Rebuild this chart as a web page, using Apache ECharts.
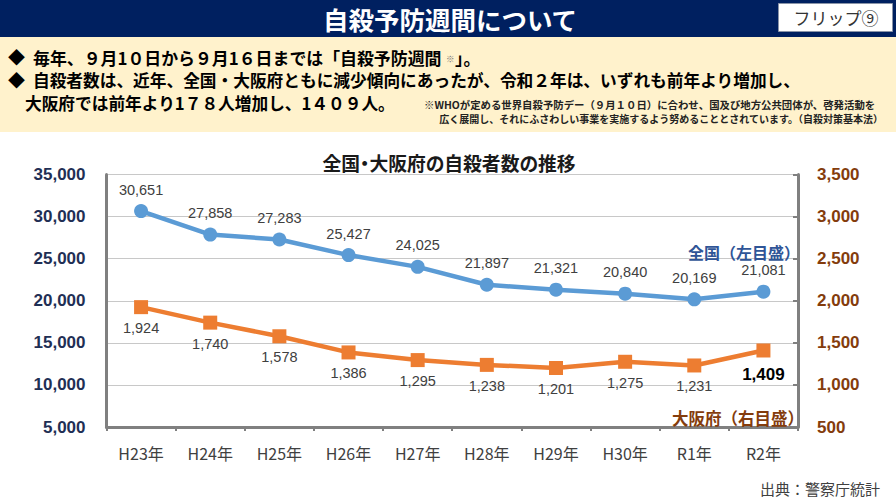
<!DOCTYPE html>
<html><head><meta charset="utf-8">
<style>html,body{margin:0;padding:0;background:#fff}#c{width:896px;height:504px}
svg text{font-feature-settings:"palt" 1;}</style>
<script src="https://cdn.jsdelivr.net/npm/echarts@6/dist/echarts.min.js"></script>
</head><body><div id="c"></div>
<script>
const categories = ['H23年','H24年','H25年','H26年','H27年','H28年','H29年','H30年','R1年','R2年'];
const national = [30651,27858,27283,25427,24025,21897,21321,20840,20169,21081];
const osaka = [1924,1740,1578,1386,1295,1238,1201,1275,1231,1409];
const JP = '"Noto Sans CJK JP","Noto Sans",sans-serif';
const NUM = '"Liberation Sans",Arial,sans-serif';
const txt = (x,y,text,size,color,align,weight) => ({type:'text',x,y,z:10,style:{text,font:`${weight||'bold'} ${size}px ${JP}`,fill:color,align:align||'left',verticalAlign:'middle'}});
const chart = echarts.init(document.getElementById('c'),null,{renderer:'svg'});
chart.setOption({
  animation:false,
  backgroundColor:'#fff',
  title:{text:'全国・大阪府の自殺者数の推移',left:444,top:148,textAlign:'center',textStyle:{fontFamily:JP,fontSize:18.8,fontWeight:'bold',color:'#1a1a1a'}},
  grid:{left:106.5,right:98,top:174.5,bottom:77,containLabel:false},
  xAxis:{type:'category',data:categories,boundaryGap:true,
    axisLine:{lineStyle:{color:'#808080',width:3}},
    axisTick:{show:true,length:4,lineStyle:{color:'#808080',width:2}},
    axisLabel:{fontFamily:JP,fontSize:16,color:'#404040',margin:18}},
  yAxis:[
    {type:'value',min:5000,max:35000,interval:5000,position:'left',
     axisLine:{show:true,lineStyle:{color:'#808080',width:3}},axisTick:{show:false},
     splitLine:{lineStyle:{color:'#c8c8c8',width:1}},
     axisLabel:{fontFamily:NUM,fontSize:17,fontWeight:'bold',color:'#1F2F55',margin:21,formatter:v=>v.toLocaleString('en-US')}},
    {type:'value',min:500,max:3500,interval:500,position:'right',
     axisLine:{show:true,lineStyle:{color:'#808080',width:3}},
     axisTick:{show:true,inside:true,length:5,lineStyle:{color:'#808080',width:2}},
     splitLine:{show:false},
     axisLabel:{fontFamily:NUM,fontSize:17,fontWeight:'bold',color:'#843C0C',margin:19,formatter:v=>v.toLocaleString('en-US')}}
  ],
  series:[
    {name:'全国',type:'line',yAxisIndex:0,data:national,symbol:'circle',symbolSize:14,
     lineStyle:{color:'#5B9BD5',width:4.5},itemStyle:{color:'#5B9BD5'},
     label:{show:true,position:'top',distance:7,fontFamily:NUM,fontSize:14.5,color:'#404040',formatter:p=>p.value.toLocaleString('en-US')}},
    {name:'大阪府',type:'line',yAxisIndex:1,data:osaka.map((v,i)=>i===osaka.length-1?{value:v,label:{fontWeight:'bold',color:'#000',fontSize:17,distance:9}}:v),
     symbol:'rect',symbolSize:14,
     lineStyle:{color:'#ED7D31',width:4.5},itemStyle:{color:'#ED7D31'},
     label:{show:true,position:'bottom',distance:6.5,fontFamily:NUM,fontSize:14.5,color:'#404040',formatter:p=>p.value.toLocaleString('en-US')}}
  ],
  graphic:[
    {type:'rect',z:1,shape:{x:0,y:0,width:896,height:37},style:{fill:'#002060'}},
    {type:'rect',z:1,shape:{x:0,y:37,width:896,height:95},style:{fill:'#FFF2CC'}},
    txt(450,18,'自殺予防週間について',25.5,'#fff','center'),
    {type:'rect',z:2,shape:{x:778.5,y:3.5,width:114,height:28},style:{fill:'#fff',stroke:'#8a94a8',lineWidth:1}},
    txt(836,17,'フリップ⑨',17,'#333','center','normal'),
    txt(8,56,'◆',17,'#000'),
    txt(33,57,'毎年、９月1０日から９月1６日までは「自殺予防週間',16.9,'#000'),
    txt(446,58,'※',8.5,'#777'),
    txt(455,57,'」。',16.9,'#000'),
    txt(8,79,'◆',17,'#000'),
    txt(33,79.5,'自殺者数は、近年、全国・大阪府ともに減少傾向にあったが、令和２年は、いずれも前年より増加し、',16.7,'#000'),
    txt(25,103,'大阪府では前年より1７８人増加し、1４０９人。',16.7,'#000'),
    txt(424,104,'※WHOが定める世界自殺予防デー（９月１０日）に合わせ、国及び地方公共団体が、啓発活動を',10.4,'#222'),
    txt(883,118,'広く展開し、それにふさわしい事業を実施するよう努めることとされています。（自殺対策基本法）',10,'#222','right'),
    txt(800,252,'全国（左目盛）',16,'#2F5597','right'),
    txt(804,418,'大阪府（右目盛）',16.5,'#843C0C','right'),
    txt(880,488,'出典：警察庁統計',15,'#404040','right','normal')
  ]
});
</script></body></html>
